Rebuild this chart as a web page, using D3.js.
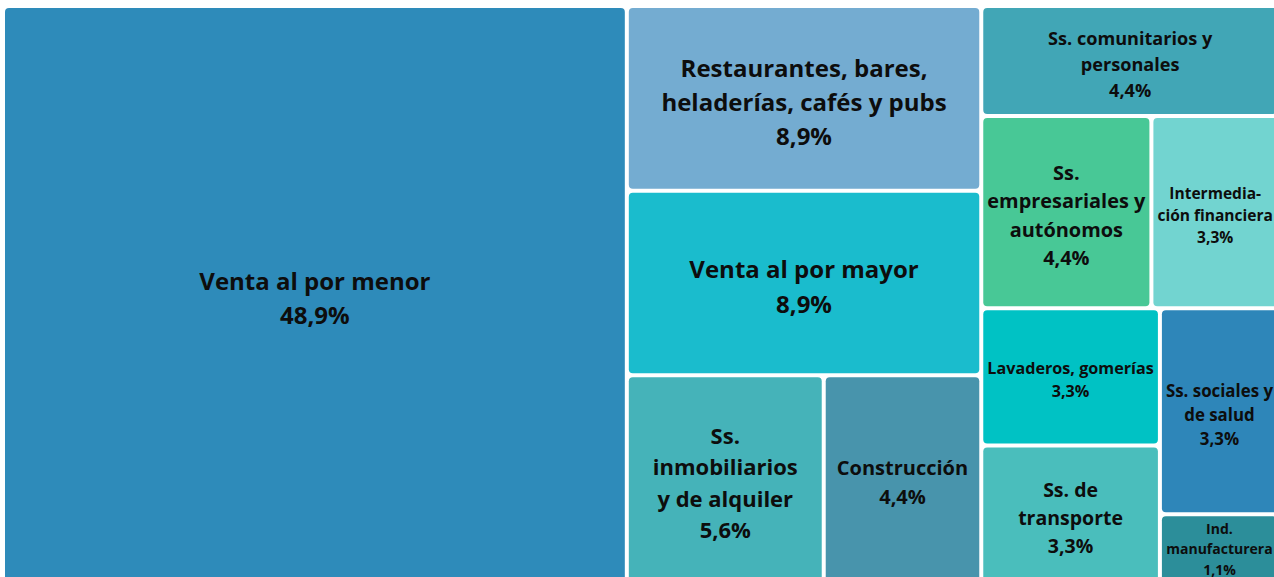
<!DOCTYPE html>
<html>
<head>
<meta charset="utf-8">
<script src="https://cdn.jsdelivr.net/npm/d3@7"></script>
<style>
  html, body { margin: 0; padding: 0; background: #ffffff; overflow: hidden; }
  svg { display: block; }
  text { font-family: "Open Sans", "Noto Sans", sans-serif; font-weight: 700; fill: #0d0d0d; }
</style>
</head>
<body>
<svg id="chart" width="1274" height="577"></svg>
<script>
// ---- data (counts out of 90 firms; labels shown as percentages) ----
const categories = [
  "Venta al por menor",
  "Restaurantes, bares,\nheladerías, cafés y pubs",
  "Venta al por mayor",
  "Ss.\ninmobiliarios\ny de alquiler",
  "Construcción",
  "Ss. comunitarios y\npersonales",
  "Ss.\nempresariales y\nautónomos",
  "Intermedia-\nción financiera",
  "Lavaderos, gomerías",
  "Ss. de\ntransporte",
  "Ss. sociales y\nde salud",
  "Ind.\nmanufacturera"
];
const counts = [44, 8, 8, 5, 4, 4, 4, 3, 3, 3, 3, 1];
const colors = [
  "#2e8bba", "#74acd1", "#1abccd", "#45b3b9", "#4894ac", "#41a6b6",
  "#48c896", "#72d4d0", "#00c2c4", "#4abebc", "#2e86b9", "#2c8e9a"
];

// ---- layout ----
const svg = d3.select("#chart");
const X0 = 5, Y0 = 8, W = 1272, H = 573;
const total = d3.sum(counts);
const fmt = v => d3.format(".1f")(v / total * 100).replace(".", ",") + "%";

const root = d3.hierarchy({
  children: categories.map((c, i) => ({ name: c, value: counts[i], color: colors[i] }))
}).sum(d => d.value || 0).sort((a, b) => b.value - a.value);

d3.treemap()
  .tile(d3.treemapBinary)
  .size([W, H])
  .paddingInner(4)
  .round(false)(root);

const g = svg.append("g").attr("transform", `translate(${X0},${Y0})`);

const leaf = g.selectAll("g.leaf")
  .data(root.leaves())
  .join("g")
  .attr("class", "leaf");

leaf.append("rect")
  .attr("x", d => d.x0)
  .attr("y", d => d.y0)
  .attr("width", d => d.x1 - d.x0)
  .attr("height", d => d.y1 - d.y0)
  .attr("rx", 4)
  .attr("fill", d => d.data.color);

const baseSize = d3.scaleLinear().domain([3, 4, 5, 8]).range([19.5, 20, 22, 24]).clamp(true);

leaf.each(function(d) {
  const lines = d.data.name.split("\n").concat([fmt(d.value)]);
  const w = d.x1 - d.x0, h = d.y1 - d.y0;
  const cx = (d.x0 + d.x1) / 2;
  const s0 = baseSize(d.value);
  const t = d3.select(this).append("text")
    .attr("text-anchor", "middle")
    .style("font-size", s0 + "px");
  const spans = t.selectAll("tspan").data(lines).join("tspan")
    .attr("x", cx)
    .text(l => l);
  let maxW = 0;
  spans.each(function() { maxW = Math.max(maxW, this.getComputedTextLength()); });
  const widthFit = s0 * (w - 8) / maxW;
  const heightFit = h / (1.95 * lines.length);
  const s = Math.max(14, Math.min(s0, widthFit, heightFit));
  const lh = s * 1.43;
  const half = (lines.length - 1) / 2 * lh;
  // centre the block slightly below the middle, but keep the last line inside the tile
  const cy = Math.min((d.y0 + d.y1) / 2 + 3, d.y1 - 12 - half);
  t.style("font-size", s + "px");
  spans
    .attr("y", (l, i) => cy + (i - (lines.length - 1) / 2) * lh)
    .attr("dominant-baseline", "central");
});
</script>
</body>
</html>
